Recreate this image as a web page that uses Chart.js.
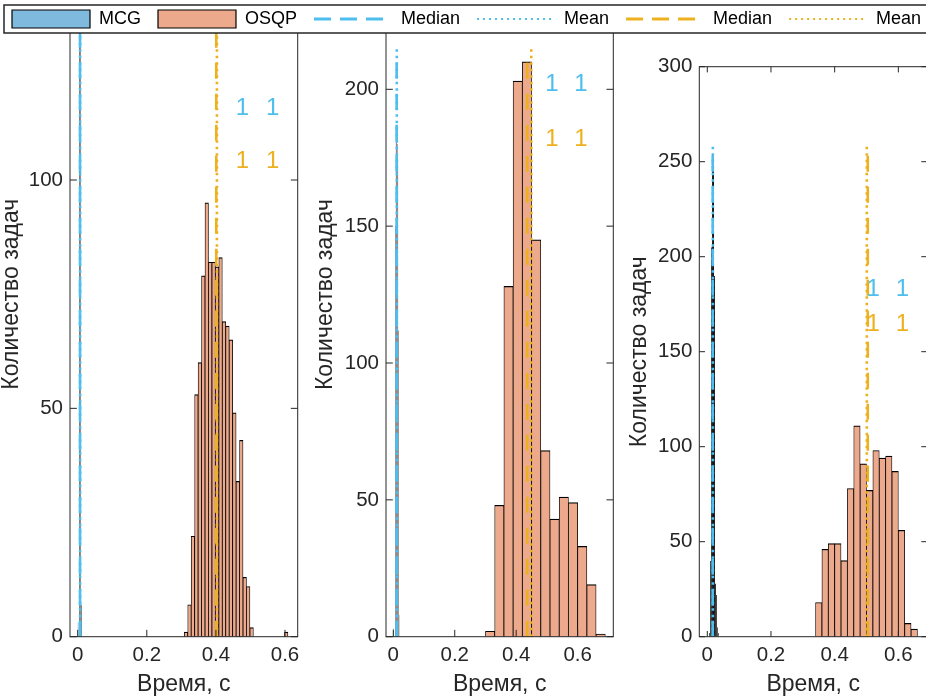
<!DOCTYPE html>
<html>
<head>
<meta charset="utf-8" />
<title>MCG / OSQP</title>
<script src="https://cdn.jsdelivr.net/npm/chart.js@4.4.1/dist/chart.umd.min.js"></script>
<style>
  html, body { margin: 0; padding: 0; background: #fff; overflow: hidden; }
  #wrap { position: relative; width: 926px; height: 696px; overflow: hidden; background: #fff; }
  canvas { position: absolute; }
</style>
</head>
<body>
<div id="wrap">
  <canvas id="p1" width="320" height="776" style="left:0px; top:-80px"></canvas>
  <canvas id="p2" width="320" height="776" style="left:300px; top:-80px"></canvas>
  <canvas id="p3" width="320" height="776" style="left:620px; top:-80px"></canvas>
  <canvas id="leg" width="1000" height="120" style="left:-5px; top:-7px"></canvas>
</div>
<script>
// ---- data (bin centres, counts) ----
const osqpBins1 = [0.3135, 0.3235, 0.3335, 0.3435, 0.3535, 0.3635, 0.3735, 0.3835, 0.3935, 0.4035,
                   0.4135, 0.4235, 0.4335, 0.4435, 0.4535, 0.4635, 0.4735, 0.4835, 0.4935, 0.5035,
                   0.5135, 0.5235, 0.5335, 0.5435, 0.5535, 0.5635, 0.5735, 0.5835, 0.5935, 0.6035];
const osqpCounts1 = [1, 7, 22, 53, 60, 79, 95, 82, 82, 81,
                     83, 69, 68, 65, 49, 34, 43, 13, 11, 2,
                     0, 0, 0, 0, 0, 0, 0, 0, 0, 1];
const mcgBins1 = [0.001, 0.003, 0.005, 0.007, 0.009, 0.011];
const mcgCounts1 = [3, 0, 230, 520, 240, 7];

const osqpBins2 = [0.315, 0.345, 0.375, 0.405, 0.435, 0.465, 0.495, 0.525, 0.555, 0.585, 0.615, 0.645, 0.675];
const osqpCounts2 = [2, 48, 128, 203, 210, 145, 68, 43, 51, 49, 33, 19, 1];
const mcgBins2 = [0.001, 0.003, 0.005, 0.007, 0.009, 0.011, 0.013, 0.015, 0.017, 0.019];
const mcgCounts2 = [3, 0, 0, 150, 187, 185, 180, 175, 112, 8];

const osqpBins3 = [0.35, 0.37, 0.39, 0.41, 0.43, 0.45, 0.47, 0.49, 0.51, 0.53, 0.55, 0.57, 0.59, 0.61, 0.63, 0.65];
const osqpCounts3 = [18, 46, 49, 49, 40, 78, 111, 91, 77, 98, 94, 95, 87, 56, 7, 4];
const mcgBins3 = [0.0075, 0.0105, 0.0135, 0.0165, 0.0195, 0.0225, 0.0255, 0.0285, 0.0315, 0.0345];
const mcgCounts3 = [2, 40, 205, 254, 252, 190, 28, 22, 5, 2];

// median / mean markers per panel
const mcgMedian = [0.0067, 0.011, 0.017];
const mcgMean = [0.0069, 0.0115, 0.0175];
const osqpMedian = [0.401, 0.436, 0.504];
const osqpMean = [0.403, 0.449, 0.501];
const markerTop = [533, 215, 260];

// "1" annotations
const noteX1 = [0.477, 0.516, 0.521];
const noteX2 = [0.564, 0.611, 0.613];
const noteYMcg = [115.6, 201.9, 183];
const noteYOsqp = [104.0, 181.7, 164.6];
const noteText = '1';

// axes
const xMin = [-0.0223, -0.0237, -0.0251];
const xMax = [0.6368, 0.716, 0.690];
const yMax = [150, 250, 300];
const xTicks = [0, 0.2, 0.4, 0.6];
const yTicks = [[0, 50, 100, 150], [0, 50, 100, 150, 200, 250], [0, 50, 100, 150, 200, 250, 300]];

const legendLabels = ['MCG', 'OSQP', 'Median', 'Mean', 'Median', 'Mean'];

// ---- styles ----
const FONT = "'Liberation Sans', Arial, Helvetica, sans-serif";
const AXIS = '#262626';
const MCG_FILL = '#80B9DE';
const OSQP_FILL = '#ECA98C';
const EDGE = '#000';
const CYAN = '#4DBEEE';
const YELLOW = '#EDB120';
const MEDIAN_DASH = [16, 15];
const MEAN_DASH = [2.5, 4];

Chart.defaults.font.family = FONT;
Chart.defaults.color = AXIS;

// canvas frame of each panel (chart area placement)
const frames = [
  { id: 'p1', yWidth: 70, padTop: 31.65, padRight: 22.3, titlePad: 0.5 },
  { id: 'p2', yWidth: 86, padTop: 32.45, padRight: 6.7, titlePad: 14 },
  { id: 'p3', yWidth: 79.3, padTop: 146.7, padRight: 13, titlePad: 8.5 }
];

// matlab style box with inward ticks + text notes
const matlabBox = {
  id: 'matlabBox',
  afterDatasetsDraw(chart, args, opts) {
    const { ctx, chartArea: a, scales } = chart;
    const tl = 0.01 * Math.max(a.right - a.left, a.bottom - a.top);
    ctx.save();
    ctx.strokeStyle = AXIS;
    ctx.lineWidth = 1;
    ctx.beginPath();
    scales.x.ticks.forEach(t => {
      const px = scales.x.getPixelForValue(t.value);
      ctx.moveTo(px, a.bottom); ctx.lineTo(px, a.bottom - tl);
      ctx.moveTo(px, a.top); ctx.lineTo(px, a.top + tl);
    });
    scales.y.ticks.forEach(t => {
      const py = scales.y.getPixelForValue(t.value);
      ctx.moveTo(a.left, py); ctx.lineTo(a.left + tl, py);
      ctx.moveTo(a.right, py); ctx.lineTo(a.right - tl, py);
    });
    ctx.stroke();
    ctx.strokeRect(a.left, a.top, a.right - a.left, a.bottom - a.top);

    ctx.font = '24px ' + FONT;
    ctx.textAlign = 'center';
    ctx.textBaseline = 'middle';
    (opts.notes || []).forEach(n => {
      ctx.fillStyle = n.color;
      ctx.fillText(n.text, scales.x.getPixelForValue(n.x), scales.y.getPixelForValue(n.y));
    });
    ctx.restore();
  }
};

function lineDs(label, v, top, color, dash) {
  return {
    type: 'line', label: label,
    data: [{ x: v, y: 0 }, { x: v, y: top }],
    borderColor: color, borderWidth: 2.6, borderDash: dash,
    pointRadius: 0, fill: false, xAxisID: 'x', order: 1
  };
}

function barDs(label, bins, counts, fill, axis, edge, inflate) {
  return {
    type: 'bar', label: label,
    data: bins.map((b, k) => ({ x: b, y: counts[k] })),
    backgroundColor: fill, borderColor: EDGE,
    borderWidth: { top: 1.2, left: edge, right: edge, bottom: 0 },
    barPercentage: 1, categoryPercentage: 1, grouped: false,
    inflateAmount: inflate,
    xAxisID: axis, order: 2
  };
}

const panels = [
  { osqpBins: osqpBins1, osqpCounts: osqpCounts1, mcgBins: mcgBins1, mcgCounts: mcgCounts1 },
  { osqpBins: osqpBins2, osqpCounts: osqpCounts2, mcgBins: mcgBins2, mcgCounts: mcgCounts2 },
  { osqpBins: osqpBins3, osqpCounts: osqpCounts3, mcgBins: mcgBins3, mcgCounts: mcgCounts3 }
];

panels.forEach((p, i) => {
  const f = frames[i];
  new Chart(document.getElementById(f.id), {
    type: 'bar',
    data: {
      datasets: [
        lineDs('Median', mcgMedian[i], markerTop[i], CYAN, MEDIAN_DASH),
        lineDs('Mean', mcgMean[i], markerTop[i], CYAN, MEAN_DASH),
        lineDs('Median', osqpMedian[i], markerTop[i], YELLOW, MEDIAN_DASH),
        lineDs('Mean', osqpMean[i], markerTop[i], YELLOW, MEAN_DASH),
        barDs('OSQP', p.osqpBins, p.osqpCounts, OSQP_FILL, 'x', 0.8, 'auto'),
        barDs('MCG', p.mcgBins, p.mcgCounts, MCG_FILL, 'x2', 1, 0)
      ]
    },
    options: {
      responsive: false,
      animation: false,
      events: [],
      layout: { padding: { top: f.padTop, right: f.padRight, left: 0, bottom: 0 } },
      scales: {
        x: {
          type: 'linear', min: xMin[i], max: xMax[i], offset: false,
          grid: { display: false, drawTicks: false, offset: false },
          border: { display: false },
          ticks: {
            padding: 6.5, autoSkip: false, maxRotation: 0, minRotation: 0,
            font: { size: 20.5 }, color: AXIS,
            callback: v => String(v)
          },
          afterBuildTicks: s => { s.ticks = xTicks.map(v => ({ value: v })); },
          afterFit: s => { s.height = 59.3; },
          title: {
            display: true, text: 'Время, с', color: AXIS,
            font: { size: 23, lineHeight: 1 }, padding: { top: 0, bottom: 0 }
          }
        },
        x2: { type: 'linear', min: xMin[i], max: xMax[i], offset: false, display: false },
        y: {
          type: 'linear', min: 0, max: yMax[i],
          grid: { display: false, drawTicks: false },
          border: { display: false },
          ticks: { padding: 7, font: { size: 20.5 }, color: AXIS, callback: v => String(v) },
          afterBuildTicks: s => { s.ticks = yTicks[i].map(v => ({ value: v })); },
          afterFit: s => { s.width = f.yWidth; },
          title: {
            display: true, text: 'Количество задач', color: AXIS,
            font: { size: 23, lineHeight: 1 }, padding: { top: f.titlePad, bottom: 0 }
          }
        }
      },
      plugins: {
        legend: { display: false },
        tooltip: { enabled: false },
        matlabBox: {
          notes: [
            { x: noteX1[i], y: noteYMcg[i], text: noteText, color: CYAN },
            { x: noteX2[i], y: noteYMcg[i], text: noteText, color: CYAN },
            { x: noteX1[i], y: noteYOsqp[i], text: noteText, color: YELLOW },
            { x: noteX2[i], y: noteYOsqp[i], text: noteText, color: YELLOW }
          ]
        }
      }
    },
    plugins: [matlabBox]
  });
});

// ---- shared legend across the top ----
const legendFrame = {
  id: 'legendFrame',
  beforeDraw(chart) {
    const { ctx } = chart;
    ctx.save();
    ctx.fillStyle = '#fff';
    ctx.fillRect(0, 0, chart.width, 40);
    ctx.strokeStyle = AXIS;
    ctx.lineWidth = 1.5;
    ctx.strokeRect(9, 12, 940, 28);
    ctx.restore();
  }
};

const legendStyles = [
  { type: 'bar', backgroundColor: MCG_FILL, borderColor: EDGE, borderWidth: 1.2 },
  { type: 'bar', backgroundColor: OSQP_FILL, borderColor: EDGE, borderWidth: 1.2 },
  { type: 'line', backgroundColor: 'rgba(0,0,0,0)', borderColor: CYAN, borderWidth: 3, borderDash: [17, 9] },
  { type: 'line', backgroundColor: 'rgba(0,0,0,0)', borderColor: CYAN, borderWidth: 2, borderDash: [2, 4] },
  { type: 'line', backgroundColor: 'rgba(0,0,0,0)', borderColor: YELLOW, borderWidth: 3, borderDash: [17, 9] },
  { type: 'line', backgroundColor: 'rgba(0,0,0,0)', borderColor: YELLOW, borderWidth: 2, borderDash: [2, 4] }
];

new Chart(document.getElementById('leg'), {
  type: 'bar',
  data: {
    datasets: legendLabels.map((l, k) => Object.assign({ label: l, data: [] }, legendStyles[k]))
  },
  options: {
    responsive: false,
    animation: false,
    events: [],
    layout: { padding: 0 },
    scales: { x: { display: false }, y: { display: false } },
    plugins: {
      tooltip: { enabled: false },
      legend: {
        display: true, position: 'top', align: 'start',
        labels: {
          usePointStyle: true, pointStyleWidth: 78, boxHeight: 18, padding: 17,
          color: '#000', font: { size: 18 },
          generateLabels: chart => chart.data.datasets.map((d, k) => ({
            text: d.label,
            fillStyle: d.backgroundColor,
            strokeStyle: d.borderColor,
            lineWidth: d.borderWidth,
            lineDash: d.borderDash || [],
            pointStyle: d.type === 'line' ? 'line' : 'rect',
            fontColor: '#000',
            hidden: false,
            datasetIndex: k
          }))
        }
      }
    }
  },
  plugins: [legendFrame]
});
</script>
</body>
</html>
